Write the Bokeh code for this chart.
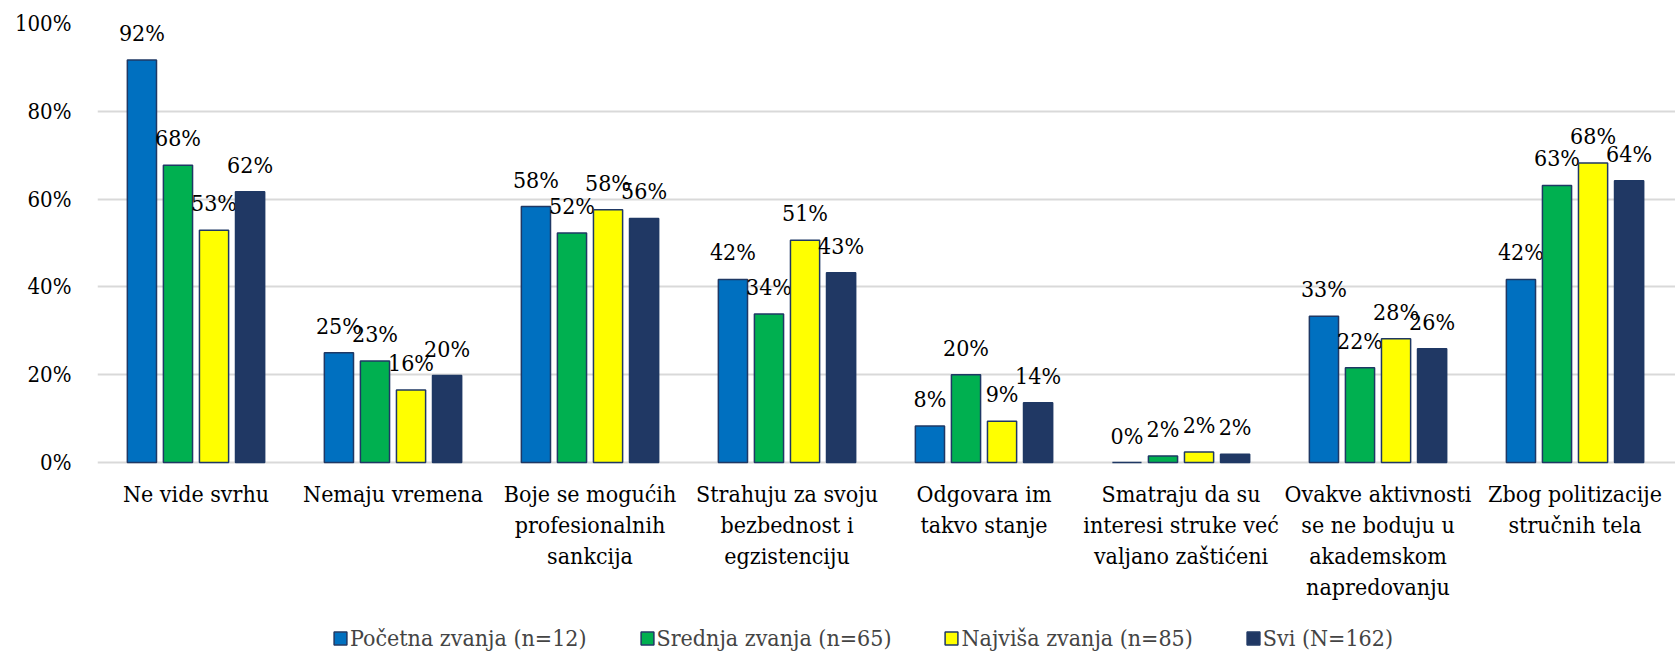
from bokeh.plotting import figure
from bokeh.models import Range1d, FixedTicker, Legend, LegendItem, ColumnDataSource
from bokeh.core.properties import value
from bokeh.embed import file_html
from bokeh.resources import INLINE

categories = [
    "Ne vide svrhu",
    "Nemaju vremena",
    "Boje se mogućih\nprofesionalnih\nsankcija",
    "Strahuju za svoju\nbezbednost i\negzistenciju",
    "Odgovara im\ntakvo stanje",
    "Smatraju da su\ninteresi struke već\nvaljano zaštićeni",
    "Ovakve aktivnosti\nse ne boduju u\nakademskom\nnapredovanju",
    "Zbog politizacije\nstručnih tela",
]
series_names = ["Početna zvanja (n=12)", "Srednja zvanja (n=65)", "Najviša zvanja (n=85)", "Svi (N=162)"]
pocetna = [91.7, 25.0, 58.3, 41.7, 8.3, 0.0, 33.3, 41.7]
srednja = [67.7, 23.1, 52.3, 33.8, 20.0, 1.5, 21.6, 63.1]
najvisa = [52.9, 16.5, 57.6, 50.6, 9.4, 2.4, 28.2, 68.2]
svi = [61.7, 19.8, 55.6, 43.2, 13.6, 1.9, 25.9, 64.2]
series = [pocetna, srednja, najvisa, svi]
colors = ["#0070C0", "#00B050", "#FFFF00", "#203864"]
y_ticks = [0, 20, 40, 60, 80, 100]

FONT = "DejaVu Serif Condensed"

px_per_unit = 4.39
y_bottom = -(651 - 462) / px_per_unit

p = figure(width=1675, height=651, output_backend="svg", toolbar_location=None,
           x_range=Range1d(0, 8.01), y_range=Range1d(y_bottom, 100),
           x_axis_location=None,
           min_border_left=97, min_border_top=23, min_border_right=0, min_border_bottom=0)
p.outline_line_color = None
p.xgrid.grid_line_color = None
p.ygrid.grid_line_color = "#D9D9D9"
p.ygrid.grid_line_width = 2
p.ygrid.ticker = FixedTicker(ticks=y_ticks)

p.yaxis.ticker = FixedTicker(ticks=y_ticks)
p.yaxis.major_label_overrides = {t: f"{t}%" for t in y_ticks}
p.yaxis.axis_line_color = None
p.yaxis.major_tick_line_color = None
p.yaxis.minor_tick_line_color = None
p.yaxis.major_tick_out = 0
p.yaxis.major_label_text_font = FONT
p.yaxis.major_label_text_font_size = "22px"
p.yaxis.major_label_text_color = "#000000"
p.yaxis.major_label_standoff = 26

centers = [i + 0.5 for i in range(len(categories))]

cat_src = ColumnDataSource(dict(x=centers, y=[0] * len(centers), lab=categories))
p.text(x="x", y="y", text="lab", source=cat_src, text_align="center",
       text_baseline="top", y_offset=18, text_font=value(FONT),
       text_font_size="23px", text_color="#000000", text_line_height=1.2)

step = 0.183
bw = 0.148
items = []
for k, (vals, col, name) in enumerate(zip(series, colors, series_names)):
    off = (k - 1.5) * step
    xs = [c + off for c in centers]
    src = ColumnDataSource(dict(x=xs, top=vals, lab=[f"{round(v):.0f}%" for v in vals]))
    r = p.vbar(x="x", top="top", bottom=0, width=bw, source=src, fill_color=col,
               line_color="#1F3864", line_width=1.5)
    p.text(x="x", y="top", text="lab", source=src, text_align="center",
           text_baseline="alphabetic", y_offset=-27, text_font=value(FONT),
           text_font_size="23px", text_color="#000000")
    items.append(LegendItem(label=name, renderers=[r]))

legend = Legend(items=items, orientation="horizontal", location=(235, 0),
                label_text_font=FONT, label_text_font_size="23px",
                glyph_width=16, glyph_height=16, label_standoff=2, spacing=52,
                padding=0, margin=0, border_line_color=None, background_fill_alpha=0)
p.add_layout(legend, "center")

open("out.html", "w").write(file_html(p, INLINE))
